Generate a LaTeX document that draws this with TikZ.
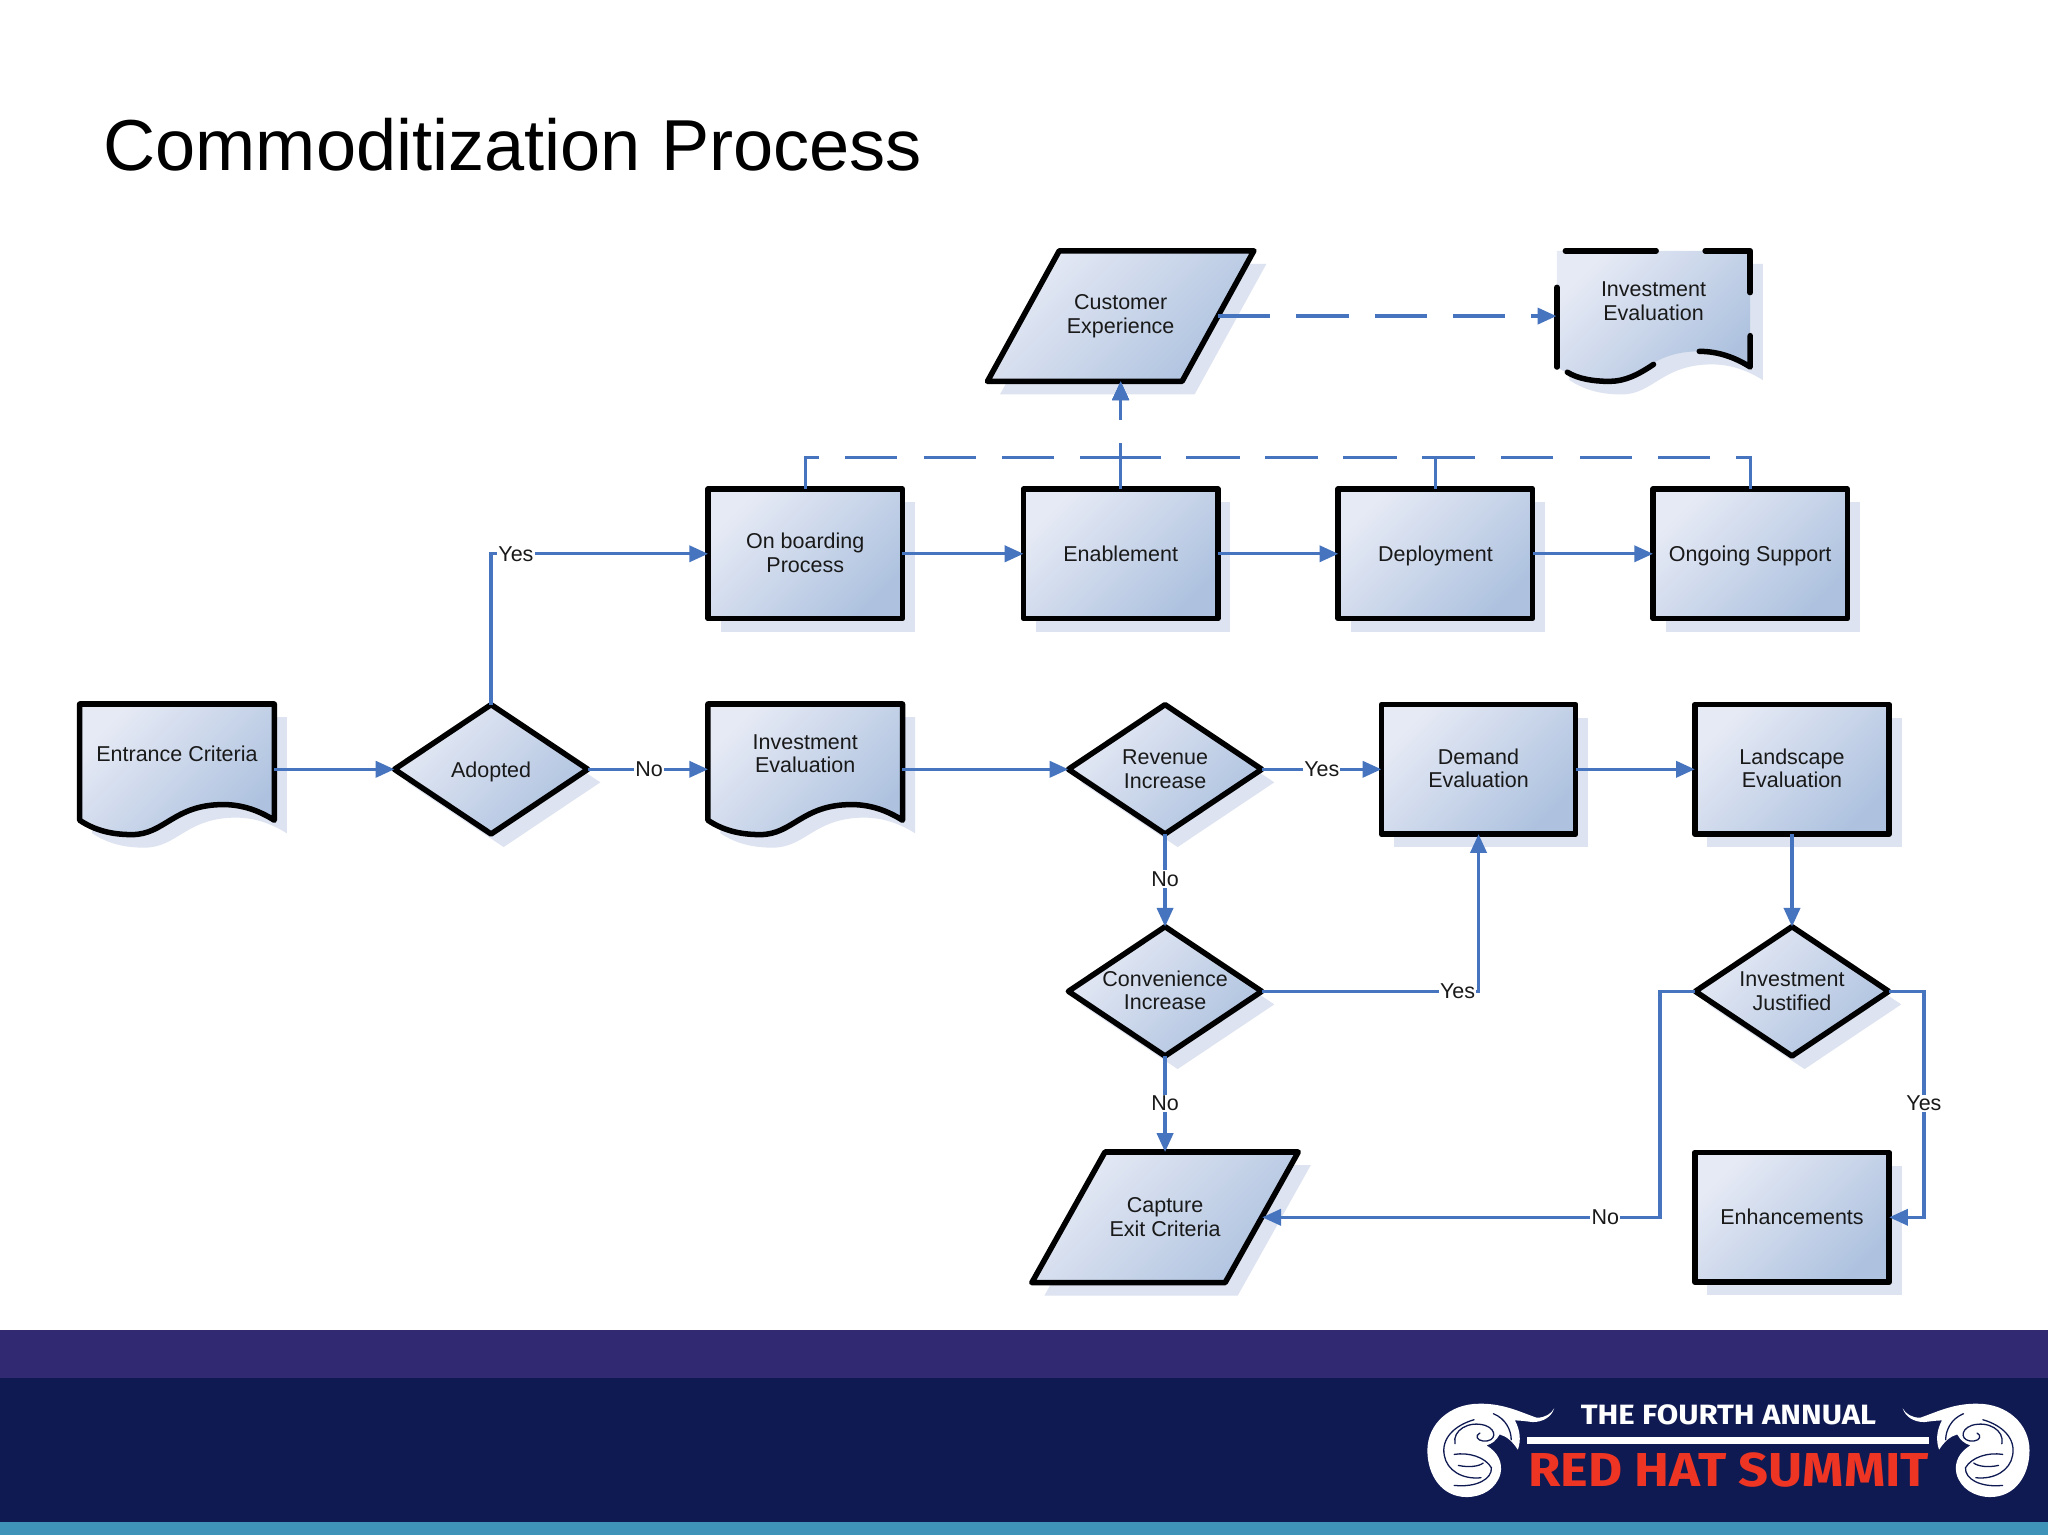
\documentclass[tikz,border=0pt]{standalone}
\usepackage{fontspec}
\setmainfont{Liberation Sans}
\newfontfamily\logofont{Fira Sans}
\usetikzlibrary{shapes.geometric,arrows.meta,shadows}
\definecolor{linkblue}{HTML}{4674BE}
\definecolor{shc}{HTML}{DDE3F0}
\definecolor{lightf}{HTML}{E6EAF5}
\definecolor{darkf}{HTML}{AEC2DF}
\definecolor{bandp}{HTML}{312A73}
\definecolor{bandn}{HTML}{0F1A52}
\definecolor{bandt}{HTML}{3F93B8}
\definecolor{logored}{HTML}{EE3524}
\tikzset{
  grad/.style={top color=lightf,bottom color=darkf,shading angle=45},
  shadowed/.style={general shadow={fill=shc,shadow xshift=0.24cm,shadow yshift=-0.25cm}},
  outline/.style={draw=black,line width=3pt,line join=round,grad,shadowed},
  txt/.style={font=\fontsize{11.7}{12.8}\selectfont,align=center,text=black!90,inner sep=0pt},
  rectbox/.style={rectangle,outline,txt,minimum width=3.72cm,minimum height=2.48cm,outer sep=0pt},
  decision/.style={diamond,aspect=1.5,outline,txt,minimum width=3.7cm,minimum height=2.475cm,inner sep=-4pt,outer sep=0pt},
  ghost/.style={rectangle,txt,minimum width=3.72cm,minimum height=2.5cm,outer sep=0pt},
  link/.style={draw=linkblue,line width=1.75pt},
  arrowed/.style={link,-{Triangle[length=10.2pt,width=8.8pt]}},
  dashedlink/.style={arrowed,dash pattern=on 28.45pt off 14.23pt,dash phase=3.56pt},
  lab/.style={txt,fill=white,inner xsep=0.6pt,inner ysep=0.6pt},
  scrollstroke/.style={draw=bandn,line width=0.7pt,line cap=round},
  blackdash/.style={draw=black,line width=3pt,line cap=round,line join=round},
  drop/.style={text depth=0pt},
  lift/.style={text depth=1.4pt}
}
\newcommand\docoutline[1]{(0,0) -- (#1,0) -- (#1,89) .. controls (#1-11,82) and (#1-24,77) .. (#1-39,77) .. controls (#1-77,77) and (#1-84,100) .. (40,100) .. controls (25,100) and (12,97) .. (0,89) -- cycle}
\newcommand\scrollart{%
  \fill[white] (372,84) .. controls (365,110) and (345,125) .. (320,125)
    .. controls (305,123) and (290,120) .. (277,120)
    .. controls (290,150) and (292,180) .. (284,208)
    .. controls (272,185) and (258,168) .. (240,162)
    .. controls (232,180) and (222,190) .. (208,195)
    .. controls (235,215) and (248,245) .. (242,280)
    .. controls (232,325) and (198,350) .. (160,350)
    .. controls (100,350) and (65,285) .. (65,210)
    .. controls (65,130) and (120,70) .. (190,70)
    .. controls (250,68) and (295,98) .. (330,112)
    .. controls (350,112) and (365,100) .. (372,84) -- cycle;
  \draw[scrollstroke] (178,118) .. controls (130,135) and (98,175) .. (106,225) .. controls (112,270) and (150,298) .. (195,292);
  \draw[scrollstroke] (132,190) .. controls (125,150) and (165,120) .. (205,135) .. controls (235,148) and (232,185) .. (200,182) .. controls (185,180) and (180,165) .. (192,158);
  \draw[scrollstroke] (130,222) .. controls (165,215) and (205,230) .. (220,262) .. controls (222,295) and (185,322) .. (130,315);
  \draw[scrollstroke] (140,255) .. controls (165,262) and (190,258) .. (200,248);
  \draw[scrollstroke] (225,100) .. controls (255,115) and (268,150) .. (268,178);
}
\begin{document}
\begin{tikzpicture}[x=0.025cm,y=-0.025cm]
\useasboundingbox (0,0) rectangle (1568,1175.2);
\fill[white] (0,0) rectangle (1568,1175.2);
% footer
\fill[bandp] (0,1018) rectangle (1568,1055);
\fill[bandn] (0,1055) rectangle (1568,1165);
\fill[bandt] (0,1165) rectangle (1568,1175.2);
% title
\node (title) [anchor=west,inner sep=0pt,font=\fontsize{39.3}{44}\selectfont,text=black] at (79,111) {Commoditization Process};
% logo
\begin{scope}[x=0.00791cm,y=-0.00638cm,xshift=26.8cm,yshift=-26.415cm]\scrollart\end{scope}
\begin{scope}[x=-0.00791cm,y=-0.00638cm,xshift=39.35cm,yshift=-26.415cm]\scrollart\end{scope}
\fill[white] (1169,1100) rectangle (1477,1105.5);
\node (logoa) [anchor=south west,inner sep=0pt,text=white] at (1210,1091) {\resizebox{160.8pt}{10.8pt}{\logofont\bfseries THE FOURTH ANNUAL}};
\node (logob) [anchor=south west,inner sep=0pt,text=logored] at (1170,1139) {\resizebox{218pt}{18.4pt}{\logofont\bfseries RED HAT SUMMIT}};
% custom outlines
\draw[outline] (811,192) -- (960,192) -- (905,292) -- (756,292) -- cycle;
\draw[outline] (846,882) -- (994,882) -- (938,982) -- (790,982) -- cycle;
\begin{scope}[shift={(61,539)}]\draw[outline] \docoutline{149};\end{scope}
\begin{scope}[shift={(542,539)}]\draw[outline] \docoutline{149};\end{scope}
\begin{scope}[shift={(1192,192)}]
  \path[grad,shadowed] \docoutline{148};
\end{scope}
\draw[blackdash] (1198.5,192) -- (1268,192);
\draw[blackdash] (1305.5,192) -- (1340,192) -- (1340,224);
\draw[blackdash] (1340,257) -- (1340,281) .. controls (1329,274) and (1316,269) .. (1301,269);
\draw[blackdash] (1266,279) .. controls (1254,287) and (1244,292) .. (1232,292) .. controls (1220,292) and (1208,290) .. (1200,285);
\draw[blackdash] (1192,281) -- (1192,220);
% nodes
\node (ob) [rectbox,lift] at (616.5,424) {On boarding\\Process};
\node (en) [rectbox] at (858,424) {Enablement};
\node (dp) [rectbox,drop] at (1099,424) {Deployment};
\node (os) [rectbox,drop] at (1340,424) {Ongoing Support};
\node (ad) [decision,drop] at (376,589) {Adopted};
\node (rv) [decision] at (892,589) {Revenue\\Increase};
\node (cv) [decision,lift] at (892,759) {Convenience\\Increase};
\node (ij) [decision] at (1372,759) {Investment\\Justified};
\node (dm) [rectbox,lift] at (1132,589) {Demand\\Evaluation};
\node (ls) [rectbox,lift] at (1372,589) {Landscape\\Evaluation};
\node (eh) [rectbox] at (1372,932) {Enhancements};
\node (cu) [ghost] at (858,242) {Customer\\Experience};
\node (ce) [ghost] at (892,932) {Capture\\Exit Criteria};
\node (ec) [ghost,label={[txt,yshift=0.3cm]center:Entrance Criteria}] at (135.5,589) {};
\node (iv) [ghost,label={[txt,yshift=0.3cm]center:Investment\\Evaluation}] at (616.5,589) {};
\node (i2) [ghost,label={[txt,yshift=0.28cm]center:Investment\\Evaluation}] at (1266,242) {};
% connectors
\coordinate (jw) at (1271,759);
\coordinate (je) at (1473,759);
\draw[arrowed] (ec.east) -- (ad.west);
\draw[arrowed] (ad.east) -- (iv.west);
\draw[arrowed] (ad.north) |- (ob.west);
\draw[arrowed] (ob.east) -- (en.west);
\draw[arrowed] (en.east) -- (dp.west);
\draw[arrowed] (dp.east) -- (os.west);
\draw[arrowed] (iv.east) -- (rv.west);
\draw[arrowed] (rv.east) -- (dm.west);
\draw[arrowed] (dm.east) -- (ls.west);
\draw[arrowed] (ls.south) -- (ij.north);
\draw[arrowed] (rv.south) -- (cv.north);
\draw[arrowed] (cv.south) -- (ce.north);
\draw[arrowed] (cv.east) -| (dm.south);
\draw[arrowed] (ij.west) -- (jw) |- (ce.east);
\draw[arrowed] (ij.east) -- (je) |- (eh.east);
\coordinate (ja) at (616.5,350);
\coordinate (jb) at (1099,350);
\coordinate (jc) at (1340,350);
\coordinate (jm) at (858,350);
\draw[dashedlink] (ob.north) -- (ja) -- (jm) -- (cu.south);
\draw[dashedlink] (en.north) -- (cu.south);
\draw[dashedlink] (dp.north) -- (jb) -- (jm) -- (cu.south);
\draw[dashedlink] (os.north) -- (jc) -- (jm) -- (cu.south);
\draw[dashedlink,dash phase=0pt] (cu.east) -- (i2.west);
% connector labels
\node (l1) [lab] at (395,424) {Yes};
\node (l2) [lab] at (497,589) {No};
\node (l3) [lab] at (1012,589) {Yes};
\node (l4) [lab] at (892,673) {No};
\node (l5) [lab] at (1116,759) {Yes};
\node (l6) [lab] at (892,845) {No};
\node (l7) [lab] at (1229,932) {No};
\node (l8) [lab] at (1473,845) {Yes};
\end{tikzpicture}
\end{document}
